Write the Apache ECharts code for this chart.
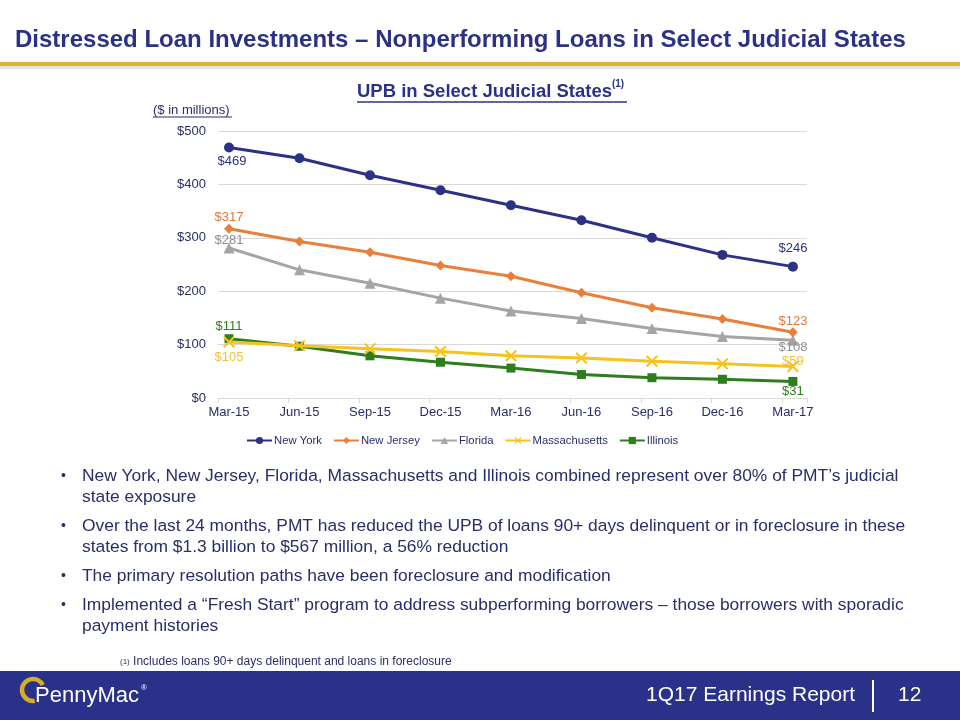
<!DOCTYPE html>
<html>
<head>
<meta charset="utf-8">
<style>
  html, body { margin: 0; padding: 0; background: #ffffff; }
  #chart { width: 960px; height: 720px; }
</style>
<script src="https://cdn.jsdelivr.net/npm/echarts@6/dist/echarts.min.js"></script>
</head>
<body>
<div id="chart"></div>
<script>
// ---- data ----
var categories = ['Mar-15', 'Jun-15', 'Sep-15', 'Dec-15', 'Mar-16', 'Jun-16', 'Sep-16', 'Dec-16', 'Mar-17'];
var seriesNames = ['New York', 'New Jersey', 'Florida', 'Massachusetts', 'Illinois'];
var newYork = [469, 449, 417, 389, 361, 333, 300, 268, 246];
var newJersey = [317, 293, 273, 248, 228, 197, 169, 148, 123];
var florida = [281, 240, 215, 187, 163, 149, 130, 115, 108];
var massachusetts = [105, 98, 92, 87, 79, 75, 69, 64, 59];
var illinois = [111, 97, 79, 67, 56, 44, 38, 35, 31];
var yTicks = [0, 100, 200, 300, 400, 500];

var pageTitle = 'Distressed Loan Investments \u2013 Nonperforming Loans in Select Judicial States';
var chartTitle = 'UPB in Select Judicial States';
var unitNote = '($ in millions)';
var bullets = [
  ['New York, New Jersey, Florida, Massachusetts and Illinois combined represent over 80% of PMT\u2019s judicial', 'state exposure'],
  ['Over the last 24 months, PMT has reduced the UPB of loans 90+ days delinquent or in foreclosure in these', 'states from $1.3 billion to $567 million, a 56% reduction'],
  ['The primary resolution paths have been foreclosure and modification'],
  ['Implemented a \u201cFresh Start\u201d program to address subperforming borrowers \u2013 those borrowers with sporadic', 'payment histories']
];
var footnote = 'Includes loans 90+ days delinquent and loans in foreclosure';
var footerText = '1Q17 Earnings Report';
var pageNumber = '12';

// ---- styles ----
var NAVY = '#2b3286';
var TEXT = '#2a2d6a';
var FONT = '"Liberation Sans", Arial, sans-serif';
var colors = ['#2b3286', '#e8803c', '#a5a5a5', '#f7c31a', '#2e7d1f'];
var labelColors = ['#2b3286', '#e07a3a', '#8f8f8f', '#f2c23a', '#2e7d1f'];
var symbols = ['circle', 'diamond', 'triangle',
  'path://M0,1.2L1.2,0L5,3.8L8.8,0L10,1.2L6.2,5L10,8.8L8.8,10L5,6.2L1.2,10L0,8.8L3.8,5Z', 'rect'];
var symbolSizes = [10, 10, 11, 12, 9];
var firstOffset = [[3, 14], [0, -11], [0, -8], [0, 15], [0, -12]];
var lastOffset = [[0, -18], [0, -11], [0, 7], [0, -5], [0, 10]];
var allValues = [newYork, newJersey, florida, massachusetts, illinois];

function buildSeries(k) {
  var vals = allValues[k];
  var n = vals.length;
  return {
    name: seriesNames[k],
    type: 'line',
    symbol: symbols[k],
    symbolSize: symbolSizes[k],
    lineStyle: { width: 3, color: colors[k] },
    itemStyle: { color: colors[k] },
    emphasis: { disabled: true },
    z: 10 - k,
    data: vals.map(function (v, i) {
      var show = (i === 0 || i === n - 1);
      return {
        value: [i, v],
        label: {
          show: show,
          position: 'inside',
          offset: i === 0 ? firstOffset[k] : lastOffset[k],
          color: labelColors[k],
          fontSize: 13,
          fontFamily: FONT,
          formatter: function (p) { return '$' + p.value[1]; }
        }
      };
    })
  };
}

var chart = echarts.init(document.getElementById('chart'), null, { renderer: 'canvas' });

var graphics = [];
// page title
graphics.push({ type: 'text', x: 15, y: 40, style: { text: pageTitle, fill: NAVY, font: 'bold 24px ' + FONT, verticalAlign: 'middle' } });
// gold rule with shadow
graphics.push({ type: 'rect', shape: { x: 0, y: 66, width: 960, height: 3 }, style: { fill: '#e4e4e4' } });
graphics.push({ type: 'rect', shape: { x: 0, y: 62, width: 960, height: 4 }, style: { fill: '#dbb631' } });
// chart title with superscript
graphics.push({
  type: 'text', x: 357, y: 74,
  style: {
    text: '{t|' + chartTitle + '}{s|(1)}',
    rich: {
      t: { font: 'bold 18.5px ' + FONT, fill: NAVY, verticalAlign: 'bottom', height: 20 },
      s: { font: 'bold 10px ' + FONT, fill: NAVY, verticalAlign: 'top', height: 20, padding: [0, 0, 8, 0] }
    }
  }
});
graphics.push({ type: 'line', shape: { x1: 357, y1: 102, x2: 627, y2: 102 }, style: { stroke: NAVY, lineWidth: 1.5 } });
// unit note
graphics.push({ type: 'text', x: 153, y: 110, style: { text: unitNote, fill: TEXT, font: '13px ' + FONT, verticalAlign: 'middle' } });
graphics.push({ type: 'line', shape: { x1: 153, y1: 117, x2: 232, y2: 117 }, style: { stroke: TEXT, lineWidth: 1 } });

// bullets
var lineY = [[476, 497], [526, 547], [576], [605, 626]];
bullets.forEach(function (b, bi) {
  graphics.push({ type: 'text', x: 61, y: lineY[bi][0], style: { text: '\u2022', fill: TEXT, font: '14px ' + FONT, verticalAlign: 'middle' } });
  b.forEach(function (line, li) {
    graphics.push({ type: 'text', x: 82, y: lineY[bi][li], style: { text: line, fill: TEXT, font: '17.4px ' + FONT, verticalAlign: 'middle' } });
  });
});
// footnote
graphics.push({
  type: 'text', x: 120, y: 655,
  style: {
    text: '{s|(1)} {t|' + footnote + '}',
    rich: {
      s: { font: '8px ' + FONT, fill: TEXT, verticalAlign: 'top', height: 13 },
      t: { font: '12px ' + FONT, fill: TEXT, height: 13 }
    }
  }
});
// footer band
graphics.push({ type: 'rect', shape: { x: 0, y: 671, width: 960, height: 49 }, style: { fill: '#2a3189' } });
// logo
graphics.push({ type: 'arc', shape: { cx: 33, cy: 690, r: 11, startAngle: Math.PI * 0.45, endAngle: Math.PI * 1.85 }, style: { stroke: '#d6ad2a', lineWidth: 4.5, fill: null } });
graphics.push({ type: 'text', x: 35, y: 696, style: { text: 'PennyMac', fill: '#ffffff', font: '22px ' + FONT, verticalAlign: 'middle' } });
graphics.push({ type: 'text', x: 141, y: 688, style: { text: '\u00ae', fill: '#ffffff', font: '8px ' + FONT, verticalAlign: 'middle' } });
// footer text
graphics.push({ type: 'text', x: 855, y: 695, style: { text: footerText, fill: '#ffffff', font: '21px ' + FONT, align: 'right', verticalAlign: 'middle' } });
graphics.push({ type: 'line', shape: { x1: 873, y1: 680, x2: 873, y2: 712 }, style: { stroke: '#ffffff', lineWidth: 2 } });
graphics.push({ type: 'text', x: 898, y: 695, style: { text: pageNumber, fill: '#ffffff', font: '21px ' + FONT, verticalAlign: 'middle' } });

var tickVals = categories.map(function (c, i) { return i - 0.156; });
tickVals.push(8.2);

var option = {
  animation: false,
  backgroundColor: '#ffffff',
  textStyle: { fontFamily: FONT },
  color: colors,
  grid: { left: 218, right: 153, top: 131, bottom: 322, containLabel: false },
  legend: {
    data: seriesNames,
    left: 246,
    top: 435,
    padding: 0,
    itemWidth: 25,
    itemHeight: 9,
    itemGap: 11,
    textStyle: { color: TEXT, fontSize: 11.3, fontFamily: FONT, padding: [0, 0, 0, -3] }
  },
  xAxis: {
    type: 'value',
    min: -0.156,
    max: 8.2,
    axisLine: { show: true, lineStyle: { color: '#d9d9d9', width: 1 } },
    axisTick: { show: true, customValues: tickVals, length: 5, lineStyle: { color: '#d9d9d9' } },
    splitLine: { show: false },
    axisLabel: {
      customValues: categories.map(function (c, i) { return i; }),
      formatter: function (v) { return categories[Math.round(v)]; },
      color: TEXT, fontSize: 13, fontFamily: FONT, margin: 8
    }
  },
  yAxis: {
    type: 'value',
    min: yTicks[0],
    max: yTicks[yTicks.length - 1],
    interval: 100,
    axisLine: { show: false },
    axisTick: { show: false },
    splitLine: { lineStyle: { color: '#d9d9d9', width: 1 } },
    axisLabel: { formatter: function (v) { return '$' + v; }, color: TEXT, fontSize: 13, fontFamily: FONT, margin: 12 }
  },
  graphic: graphics,
  series: seriesNames.map(function (n, k) { return buildSeries(k); })
};
chart.setOption(option);
</script>
</body>
</html>
